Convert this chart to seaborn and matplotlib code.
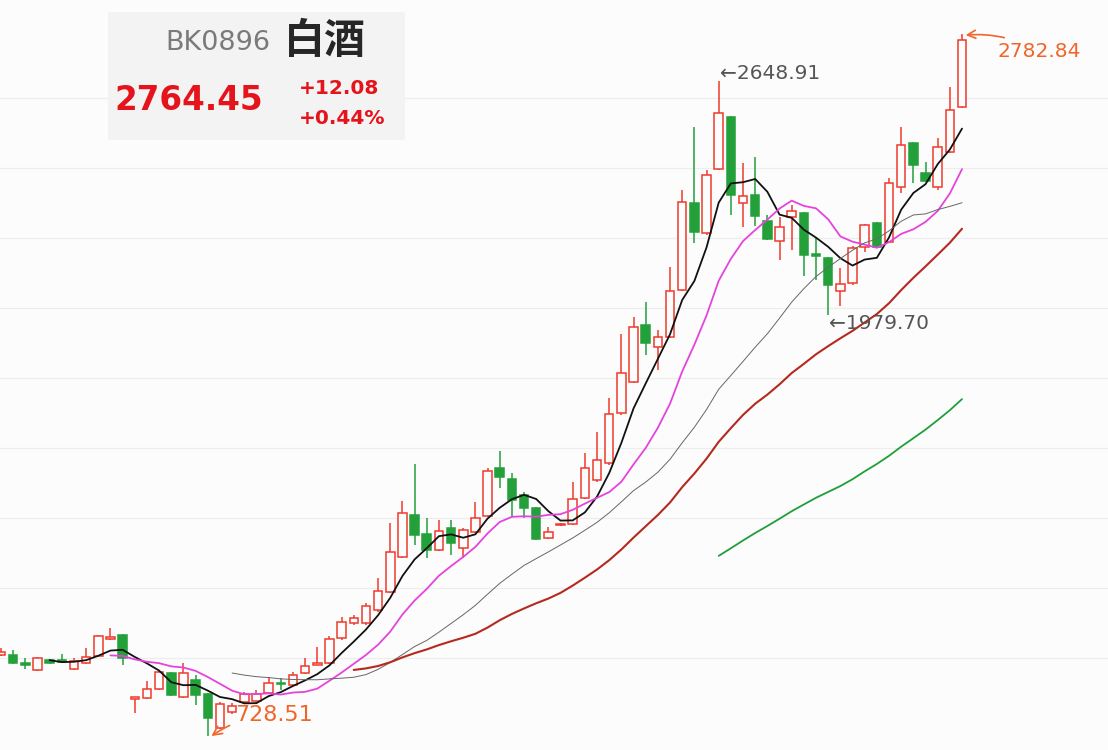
import numpy as np
import pandas as pd
import matplotlib
matplotlib.use("Agg")
import matplotlib.pyplot as plt
from matplotlib.patches import Rectangle
import seaborn as sns

# ---------------- data ----------------
open_ = [1009, 1009, 986, 966, 994, 994, 969, 986, 1006, 1054,
         1066, 883, 886, 911, 957, 889, 937, 897, 800, 846,
         874, 877, 900, 929, 923, 957, 980, 986, 1057, 1100,
         1100, 1137, 1189, 1289, 1409, 1354, 1309, 1371, 1314, 1360,
         1406, 1543, 1511, 1466, 1429, 1343, 1380, 1383, 1457, 1509,
         1557, 1700, 1789, 1951, 1889, 1917, 2051, 2300, 2214, 2397,
         2546, 2300, 2323, 2249, 2191, 2260, 2271, 2154, 2143, 2049,
         2071, 2174, 2243, 2189, 2346, 2471, 2386, 2346, 2446, 2574]

high = [1029, 1023, 1000, 1003, 997, 1011, 1000, 1029, 1066, 1086,
        1069, 889, 934, 966, 960, 986, 951, 900, 874, 871,
        903, 909, 946, 943, 960, 1000, 1031, 1063, 1117, 1123,
        1157, 1229, 1386, 1449, 1554, 1400, 1394, 1394, 1371, 1446,
        1543, 1591, 1529, 1474, 1431, 1374, 1386, 1503, 1586, 1646,
        1743, 1926, 1974, 2017, 1937, 2117, 2337, 2517, 2394, 2648.91,
        2549, 2414, 2431, 2266, 2260, 2294, 2274, 2200, 2146, 2114,
        2177, 2240, 2246, 2371, 2517, 2474, 2417, 2486, 2631, 2782.84]

low = [1006, 983, 969, 963, 983, 986, 966, 983, 1003, 1051,
       980, 843, 883, 909, 891, 886, 866, 777, 797, 840,
       871, 874, 897, 909, 920, 954, 980, 983, 1051, 1094,
       1094, 1131, 1186, 1286, 1323, 1286, 1306, 1294, 1286, 1357,
       1403, 1486, 1403, 1400, 1337, 1340, 1377, 1380, 1454, 1503,
       1551, 1694, 1786, 1866, 1823, 1914, 2049, 2186, 2209, 2394,
       2266, 2231, 2234, 2194, 2137, 2166, 2091, 2080, 1979.70, 2006,
       2066, 2160, 2171, 2186, 2329, 2357, 2360, 2337, 2443, 2571]

close = [1017, 986, 980, 1000, 986, 989, 991, 1003, 1063, 1060,
         1000, 889, 911, 960, 894, 957, 894, 829, 869, 863,
         897, 897, 929, 926, 951, 977, 986, 1054, 1103, 1114,
         1149, 1191, 1303, 1414, 1351, 1309, 1363, 1329, 1366, 1400,
         1534, 1517, 1451, 1429, 1340, 1360, 1383, 1454, 1543, 1566,
         1697, 1814, 1946, 1900, 1917, 2049, 2303, 2217, 2380, 2557,
         2323, 2320, 2263, 2197, 2231, 2277, 2151, 2149, 2066, 2069,
         2171, 2237, 2174, 2357, 2466, 2409, 2363, 2460, 2566, 2764.45]

ma_windows = [5, 10, 20, 30, 60]
grid_levels = [1000, 1200, 1400, 1600, 1800, 2000, 2200, 2400, 2600]

code_label = "BK0896"
name_label = "白酒"
last_label = "2764.45"
chg_label = "+12.08"
pct_label = "+0.44%"
hi_label = "←2648.91"
lo_label = "←1979.70"
top_label = "2782.84"
bottom_label = "728.51"

# ---------------- styling ----------------
sns.set_style("white")
plt.rcParams['font.family'] = ['DejaVu Sans', 'Noto Sans CJK SC']

BG = '#fcfcfd'
RED = '#ee3a2c'
GREEN = '#23a03a'
ORANGE = '#f0662a'
ma_colors = {5: '#111111', 10: '#e544dc', 20: '#666666', 30: '#b42a1e', 60: '#1f9e3a'}
ma_widths = {5: 1.3, 10: 1.3, 20: 0.7, 30: 1.5, 60: 1.3}

W, H = 1108, 750
fig = plt.figure(figsize=(W / 100, H / 100), dpi=100, facecolor=BG)
ax = fig.add_axes([0, 0, 1, 1])
ax.set_facecolor(BG)

df = pd.DataFrame({"i": np.arange(len(close)), "open": open_, "high": high,
                   "low": low, "close": close})
for w in ma_windows:
    df[f"MA{w}"] = df["close"].rolling(w).mean()

for g in grid_levels:
    ax.axhline(g, color='#ededee', lw=0.9, zorder=0)

# candles
up = df["close"] >= df["open"]
body_lo = np.minimum(df["open"], df["close"])
body_hi = np.maximum(df["open"], df["close"])
body_h = np.maximum(body_hi - body_lo, 1.2)
colors = np.where(up, RED, GREEN)
ax.vlines(df["i"], df["low"], body_lo, colors=colors, lw=1.1, zorder=2)
ax.vlines(df["i"], body_hi, df["high"], colors=colors, lw=1.1, zorder=2)
ax.bar(df["i"], body_h, bottom=body_lo, width=0.7,
       color=np.where(up, BG, GREEN), edgecolor=colors, linewidth=1.1, zorder=2.5)

# moving averages
for w in ma_windows:
    sns.lineplot(data=df, x="i", y=f"MA{w}", ax=ax, color=ma_colors[w],
                 lw=ma_widths[w], zorder=3)

ax.set_xlim(-0.08, 91.0)
ax.set_ylim(737.1, 2880)
ax.axis('off')

# annotations
i_hi = int(np.argmax(df["high"].values[:70]))
i_lo2 = 68
i_top = len(close) - 1
i_bot = int(np.argmin(df["low"].values))
ax.annotate(hi_label, xy=(i_hi, high[i_hi]), xytext=(1, 7), textcoords='offset pixels',
            ha='left', va='center', fontsize=14.5, color='#555555', zorder=5)
ax.annotate(lo_label, xy=(i_lo2, low[i_lo2]), xytext=(1, -8), textcoords='offset pixels',
            ha='left', va='center', fontsize=14.5, color='#555555', zorder=5)
ax.annotate(top_label, xy=(i_top + 0.3, high[i_top] - 3), xytext=(32, -16),
            textcoords='offset pixels', ha='left', va='center', fontsize=14.5,
            color=ORANGE, zorder=5,
            arrowprops=dict(arrowstyle='->', color=ORANGE, lw=1.2,
                            shrinkA=2, shrinkB=0, connectionstyle='arc3,rad=0.15'))
ax.annotate(bottom_label, xy=(i_bot + 0.3, low[i_bot]), xytext=(24, 21),
            textcoords='offset pixels', ha='left', va='center', fontsize=16,
            color=ORANGE, zorder=5,
            arrowprops=dict(arrowstyle='->', color=ORANGE, lw=1.2,
                            shrinkA=2, shrinkB=0, connectionstyle='arc3,rad=0.15'))

# header box
def fx(px):
    return px / W

def fy(py):
    return 1 - py / H

ax.add_patch(Rectangle((fx(108), fy(140)), fx(405) - fx(108), fy(12) - fy(140),
                       transform=fig.transFigure, facecolor='#f3f3f4',
                       edgecolor='none', zorder=4))
fig.text(fx(165), fy(43), code_label, fontsize=19.5, color='#7a7a7a',
         ha='left', va='center', zorder=6)
fig.text(fx(284), fy(41), name_label, fontsize=29.5, color='#262626',
         family=['Noto Sans CJK SC'], weight='bold', ha='left', va='center', zorder=6)
fig.text(fx(114), fy(100), last_label, fontsize=23.5, color='#e5131b',
         weight='bold', ha='left', va='center', zorder=6)
fig.text(fx(299), fy(89), chg_label, fontsize=14.5, color='#e5131b',
         weight='bold', ha='left', va='center', zorder=6)
fig.text(fx(299), fy(118), pct_label, fontsize=14.5, color='#e5131b',
         weight='bold', ha='left', va='center', zorder=6)

fig.savefig("out.png", dpi=100, facecolor=BG)
